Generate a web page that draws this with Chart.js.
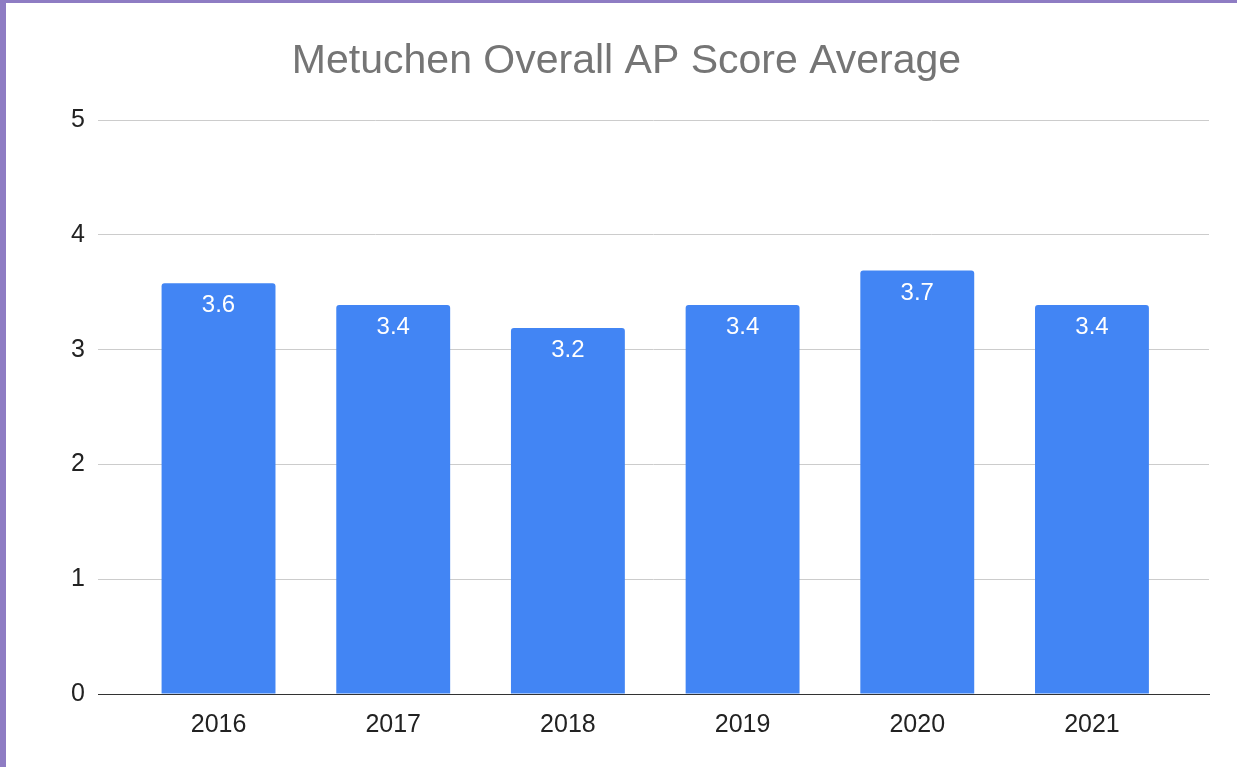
<!DOCTYPE html>
<html>
<head>
<meta charset="utf-8">
<script src="https://cdn.jsdelivr.net/npm/chart.js@4/dist/chart.umd.min.js"></script>
<style>
    body { margin: 0; background: #fff; }
    #frame {
        position: absolute; left: 0; top: 0;
        width: 1237px; height: 767px;
        box-sizing: border-box;
        border-left: 6px solid #8e7cc3;
        border-top: 3px solid #8e7cc3;
        background: #fff;
    }
    canvas { display: block; }
</style>
</head>
<body>
<div id="frame"><canvas id="chartScores" width="1231" height="764"></canvas></div>
<script>
const chartTitle = 'Metuchen Overall AP Score Average';
const years = [2016, 2017, 2018, 2019, 2020, 2021];
const scoreAverages = [3.58, 3.39, 3.19, 3.39, 3.69, 3.39];
const yTicks = [0, 1, 2, 3, 4, 5];

(function() {
    const fontFamily = '"Liberation Sans", Arial, sans-serif';

    // white value labels just inside the top of each bar
    const barLabels = {
        id: 'barLabels',
        afterDatasetsDraw: function (chart) {
            const ctx = chart.ctx;
            const meta = chart.getDatasetMeta(0);
            ctx.save();
            ctx.fillStyle = '#ffffff';
            ctx.font = '24px ' + fontFamily;
            ctx.textAlign = 'center';
            ctx.textBaseline = 'alphabetic';
            meta.data.forEach(function (bar, i) {
                ctx.fillText(scoreAverages[i].toFixed(1), bar.x, bar.y + 29);
            });
            ctx.restore();
        }
    };

    function renderChart() {
        return new Chart('chartScores', {
            type: 'bar',
            data: {
                labels: years,
                datasets: [{
                    data: scoreAverages,
                    backgroundColor: '#4285f4',
                    borderRadius: { topLeft: 3, topRight: 3 },
                    categoryPercentage: 1,
                    barPercentage: 0.652
                }]
            },
            plugins: [barLabels],
            options: {
                responsive: false,
                animation: false,
                devicePixelRatio: 1,
                layout: { padding: { left: 38, right: 28, top: 0, bottom: 0 } },
                plugins: {
                    legend: { display: false },
                    tooltip: { enabled: false },
                    title: {
                        display: true,
                        text: chartTitle,
                        color: '#757575',
                        font: { family: fontFamily, size: 41, weight: 'normal' },
                        padding: { top: 34, bottom: 34 }
                    }
                },
                scales: {
                    x: {
                        type: 'linear',
                        offset: false,
                        min: 2015.31,
                        max: 2021.67,
                        z: 1,
                        afterFit: function (scale) { scale.height = 73; },
                        afterBuildTicks: function (scale) {
                            scale.ticks = years.map(function (y) { return { value: y }; });
                        },
                        ticks: {
                            autoSkip: false,
                            maxRotation: 0,
                            color: '#222',
                            padding: 8,
                            font: { family: fontFamily, size: 25 },
                            callback: function (value) { return String(value); }
                        },
                        grid: { display: false, offset: false },
                        border: { display: true, color: '#333', width: 1 }
                    },
                    y: {
                        min: 0,
                        max: 5,
                        afterFit: function (scale) { scale.width = 54; },
                        afterBuildTicks: function (scale) {
                            scale.ticks = yTicks.map(function (v) { return { value: v }; });
                        },
                        ticks: {
                            color: '#222',
                            padding: 13,
                            font: { family: fontFamily, size: 25 }
                        },
                        grid: { color: '#cccccc', drawTicks: false },
                        border: { display: false }
                    }
                }
            }
        });
    }

    window.scoreChart = renderChart();
})();
</script>
</body>
</html>
